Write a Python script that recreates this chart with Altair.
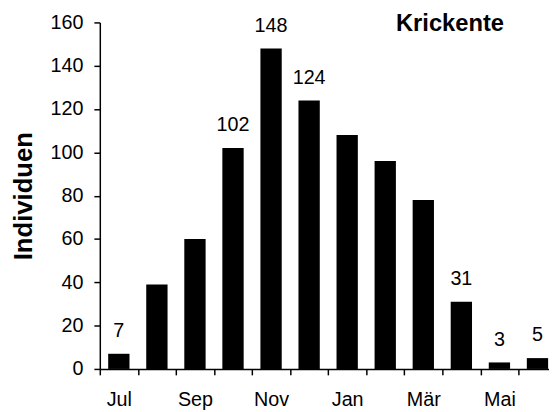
import altair as alt
import pandas as pd

months = ["Jul", "Aug", "Sep", "Okt", "Nov", "Dez", "Jan", "Feb", "Mär", "Apr", "Mai", "Jun"]
values = [7, 39, 60, 102, 148, 124, 108, 96, 78, 31, 3, 5]
bar_labels = ["7", "", "", "102", "148", "124", "", "", "", "31", "3", "5"]
shown_ticks = ["Jul", "Sep", "Nov", "Jan", "Mär", "Mai"]
y_ticks = [0, 20, 40, 60, 80, 100, 120, 140, 160]

df = pd.DataFrame({"Monat": months, "Individuen": values, "Label": bar_labels})

FONT = "Liberation Sans"
RANGE = 462.6
HALF_STEP = RANGE / len(months) / 2

label_expr = "indexof(" + str(shown_ticks).replace("'", '"') + ", datum.label) >= 0 ? datum.label : ''"

x = alt.X(
    "Monat:N",
    sort=months,
    title=None,
    scale=alt.Scale(range=[0, RANGE], paddingInner=0.44, paddingOuter=0.22),
    axis=alt.Axis(
        labelAngle=0,
        tickOffset=-HALF_STEP,
        labelOffset=HALF_STEP,
        labelExpr=label_expr,
        tickSize=6,
        labelPadding=15,
        labelFontSize=20,
    ),
)
y = alt.Y(
    "Individuen:Q",
    scale=alt.Scale(domain=[0, 160], nice=False),
    axis=alt.Axis(
        values=y_ticks,
        tickSize=6,
        labelPadding=11,
        labelFontSize=20,
        title="Individuen",
        titleFontSize=26,
        titleFontWeight="bold",
        titlePadding=14,
        grid=False,
    ),
)

bars = alt.Chart(df).mark_bar(color="black").encode(x=x, y=y)
texts = alt.Chart(df).mark_text(
    font=FONT, fontSize=20, color="black", baseline="alphabetic", dy=-17
).encode(x=alt.X("Monat:N", sort=months), y=alt.Y("Individuen:Q"), text="Label:N")

chart = (
    alt.layer(bars, texts)
    .properties(
        width=455,
        height=351,
        autosize=alt.AutoSizeParams(type="none"),
        padding={"left": 93, "top": 12, "right": 0, "bottom": 40},
        title=alt.TitleParams(
            "Krickente",
            anchor="start",
            frame="group",
            dx=300,
            dy=43,
            offset=0,
            baseline="alphabetic",
            fontSize=24,
            fontWeight="bold",
            font=FONT,
            color="black",
        ),
    )
    .configure_view(stroke=None)
    .configure_axis(
        labelFont=FONT,
        titleFont=FONT,
        labelColor="black",
        titleColor="black",
        domainColor="black",
        tickColor="black",
        domainWidth=1.5,
        tickWidth=1.5,
    )
)

chart.save("out.html", embed_options={"renderer": "svg", "actions": False})
